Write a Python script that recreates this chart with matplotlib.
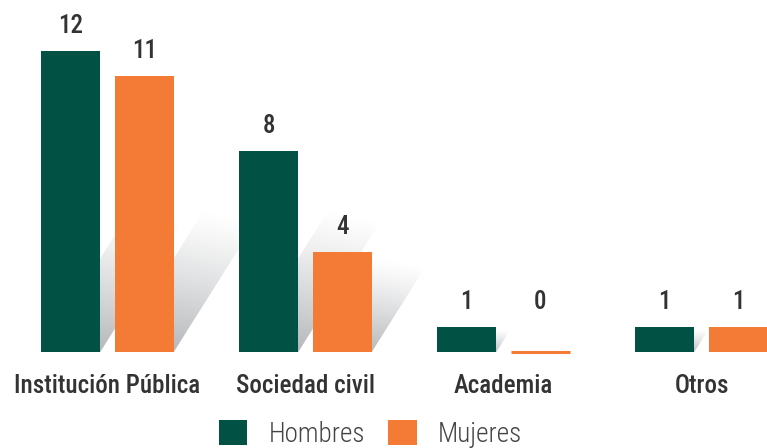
import numpy as np
import matplotlib
matplotlib.use("Agg")
import matplotlib.pyplot as plt
from matplotlib import font_manager
from matplotlib.patches import Polygon, Patch
from matplotlib.colors import to_rgb

# ---- data ----
categories = ["Institución Pública", "Sociedad civil", "Academia", "Otros"]
series_names = ["Hombres", "Mujeres"]
hombres = [12, 8, 1, 1]
mujeres = [11, 4, 0, 1]
colors = ["#015244", "#f47b35"]

# ---- fonts ----
names = {f.name for f in font_manager.fontManager.ttflist}
cond_font = None
for cand in ["Roboto Condensed", "Liberation Sans Narrow", "Open Sans Condensed", "Noto Sans Condensed"]:
    if cand in names:
        cond_font = cand
        break
if cond_font is None:
    cond_font = "DejaVu Sans"

plt.rcParams["font.family"] = [cond_font, "DejaVu Sans"]

W, H, DPI = 767, 448, 100
fig = plt.figure(figsize=(W / DPI, H / DPI), dpi=DPI)
base_px = 352
px_per_unit_y = 25.1
px_per_cat = 198.0
first_center_px = 107.5
ax = fig.add_axes([0, (H - base_px) / H, 1, base_px / H])
ax.set_xlim(-first_center_px / px_per_cat, (W - first_center_px) / px_per_cat)
ax.set_ylim(0, base_px / px_per_unit_y)
ax.axis("off")

x = np.arange(len(categories))
bar_w = 59 / px_per_cat
offset = 36.75 / px_per_cat
series = [hombres, mujeres]

# ---- shadows ----
slope = 0.63 * px_per_unit_y / px_per_cat   # x units per y unit
cap = 6.1
def shadow(x_left, h):
    hs = min(h, cap)
    if hs <= 0:
        return
    dx = slope * hs
    poly = Polygon([(x_left, 0), (x_left + bar_w, 0),
                    (x_left + bar_w + dx, hs), (x_left + dx, hs)],
                   closed=True, facecolor="none", edgecolor="none")
    ax.add_patch(poly)
    xs = np.linspace(0, 1, 64)[None, :]
    ys = np.linspace(0, 1, 128)[:, None]
    a = np.clip(1 - ys * 0.95 - xs * 0.2, 0, 1) ** 1.2 * 0.7
    img = np.zeros((128, 64, 4))
    c = to_rgb("#8c8f94")
    img[..., 0], img[..., 1], img[..., 2] = c
    img[..., 3] = a
    im = ax.imshow(img, origin="lower", extent=(x_left, x_left + bar_w + dx, 0, hs),
                   aspect="auto", zorder=1, interpolation="bilinear")
    im.set_clip_path(poly)

for i, vals in enumerate(series):
    xs_ = x + (-offset if i == 0 else offset)
    for xx, v in zip(xs_, vals):
        shadow(xx - bar_w / 2, v)

# ---- bars ----
for i, (vals, name) in enumerate(zip(series, series_names)):
    xs_ = x + (-offset if i == 0 else offset)
    lws = [2.2 if v == 0 else 0 for v in vals]
    ax.bar(xs_, vals, width=bar_w, color=colors[i], edgecolor=colors[i],
           linewidth=lws, zorder=3, clip_on=False, label=name)
    for xx, v in zip(xs_, vals):
        ax.annotate(str(v), (xx, max(v, 1)), xytext=(0, 18), textcoords="offset points",
                    ha="center", va="center", fontsize=18, color="#333333",
                    fontweight=500, zorder=5)

# ---- category labels ----
for xx, lab in zip(x, categories):
    ax.annotate(lab, (xx, 0), xytext=(0, -24.5), textcoords="offset points",
                ha="center", va="center", fontsize=18, color="#333333",
                fontweight=500, annotation_clip=False)

# ---- legend ----
handles = [Patch(facecolor=c, edgecolor="none") for c in colors]
leg = fig.legend(handles, series_names, loc="center", bbox_to_anchor=(370.5 / W, 1 - 434 / H),
                 ncol=2, frameon=False, fontsize=19.5, handlelength=1.05, handleheight=1.0,
                 handletextpad=0.8, columnspacing=0.85, borderpad=0)
for t in leg.get_texts():
    t.set_color("#444444")
    t.set_fontweight("light")

fig.savefig("out.png", dpi=DPI)
